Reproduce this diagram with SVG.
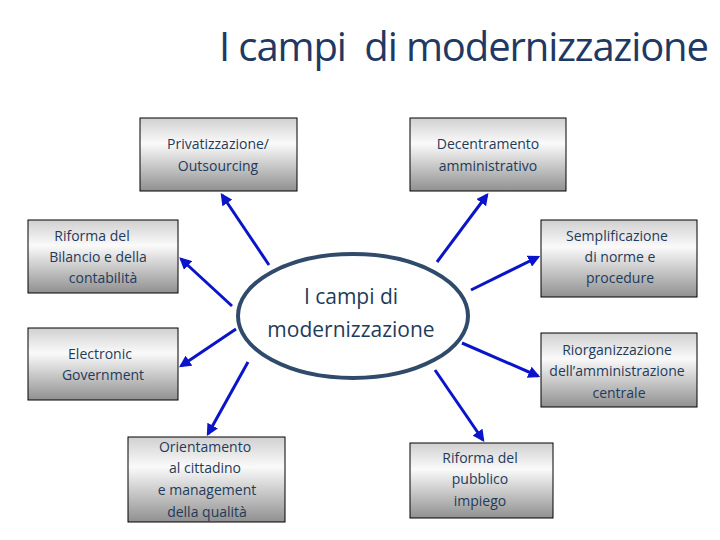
<svg xmlns="http://www.w3.org/2000/svg" width="720" height="540" viewBox="0 0 720 540">
<style>
.box{fill:url(#g);stroke:#000;stroke-width:1}
.t{font-family:"Open Sans","Liberation Sans",sans-serif;font-size:14px;fill:#1f3b5a;text-anchor:middle}
.a{stroke:#0a14c8;stroke-width:3;fill:none;marker-end:url(#m)}
</style>
<defs>
<linearGradient id="g" x1="0" y1="0" x2="0" y2="1"><stop offset="0" stop-color="#d0d0d0"/><stop offset="0.35" stop-color="#fafafa"/><stop offset="1" stop-color="#909090"/></linearGradient>
<marker id="m" viewBox="0 0 10 10" refX="8" refY="5" markerWidth="4" markerHeight="4" orient="auto"><path d="M0,0L10,5L0,10z" fill="#0a14c8"/></marker>
</defs>
<rect width="720" height="540" fill="#fff"/>
<text x="464" y="61" font-family="'Open Sans',sans-serif" font-size="40" fill="#1f3864" text-anchor="middle" textLength="490" xml:space="preserve">I campi  di modernizzazione</text>
<g id="connectors">
<line class="a" x1="269" y1="265" x2="222" y2="195"/>
<line class="a" x1="437" y1="262" x2="487" y2="195"/>
<line class="a" x1="232" y1="306" x2="181" y2="259"/>
<line class="a" x1="471" y1="290" x2="538" y2="257"/>
<line class="a" x1="236" y1="329" x2="181" y2="366"/>
<line class="a" x1="462" y1="343" x2="538" y2="376"/>
<line class="a" x1="248" y1="362" x2="208" y2="434"/>
<line class="a" x1="435" y1="370" x2="483" y2="440"/>
</g>
<g id="center"><ellipse cx="353" cy="316" rx="115" ry="62" fill="#fff" stroke="#2f4a6a" stroke-width="4"/>
<text class="t" x="351" y="304" style="font-size:21px">I campi di</text><text class="t" x="351" y="337" style="font-size:21px">modernizzazione</text></g>
<g id="n1"><rect class="box" x="140" y="118" width="157" height="73"/><text class="t" x="218" y="149">Privatizzazione/</text><text class="t" x="218" y="171">Outsourcing</text></g>
<g id="n2"><rect class="box" x="410" y="118" width="156" height="73"/><text class="t" x="488" y="149">Decentramento</text><text class="t" x="488" y="171">amministrativo</text></g>
<g id="n3"><rect class="box" x="28" y="220" width="150" height="73"/><text class="t" x="92" y="241">Riforma del</text><text class="t" x="98" y="262">Bilancio e della</text><text class="t" x="103" y="283">contabilità</text></g>
<g id="n4"><rect class="box" x="541" y="220" width="156" height="77"/><text class="t" x="617" y="241">Semplificazione</text><text class="t" x="620" y="262">di norme e</text><text class="t" x="620" y="283">procedure</text></g>
<g id="n5"><rect class="box" x="28" y="328" width="150" height="72"/><text class="t" x="100" y="359">Electronic</text><text class="t" x="103" y="380">Government</text></g>
<g id="n6"><rect class="box" x="541" y="333" width="156" height="74"/><text class="t" x="617" y="355">Riorganizzazione</text><text class="t" x="617" y="376">dell’amministrazione</text><text class="t" x="619" y="398">centrale</text></g>
<g id="n7"><rect class="box" x="128" y="437" width="157" height="85"/><text class="t" x="205" y="452">Orientamento</text><text class="t" x="205" y="473">al cittadino</text><text class="t" x="207" y="495">e management</text><text class="t" x="207" y="517">della qualità</text></g>
<g id="n8"><rect class="box" x="410" y="443" width="143" height="75"/><text class="t" x="480" y="463">Riforma del</text><text class="t" x="480" y="484">pubblico</text><text class="t" x="480" y="506">impiego</text></g>
</svg>
